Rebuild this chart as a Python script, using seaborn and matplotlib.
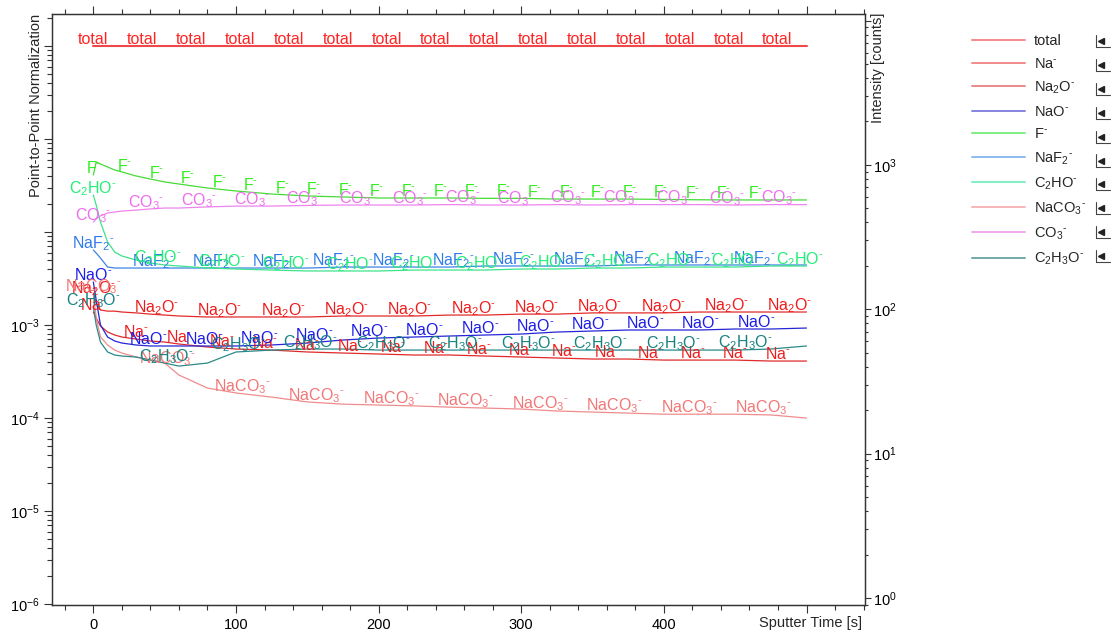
import numpy as np
import pandas as pd
import matplotlib
matplotlib.use("Agg")
import matplotlib.pyplot as plt
import seaborn as sns
from matplotlib.lines import Line2D
from matplotlib.ticker import MultipleLocator, LogLocator, FuncFormatter, NullFormatter

# ---------------- data ----------------
time_s = [0, 2, 5, 10, 15, 20, 30, 40, 50, 60, 80, 100, 125, 150, 175, 200,
          225, 250, 275, 300, 325, 350, 375, 400, 425, 450, 475, 500]

total = [1.0, 1.0, 1.0, 1.0, 1.0, 1.0, 1.0, 1.0, 1.0, 1.0, 1.0, 1.0, 1.0, 1.0,
         1.0, 1.0, 1.0, 1.0, 1.0, 1.0, 1.0, 1.0, 1.0, 1.0, 1.0, 1.0, 1.0, 1.0]
na = [0.00138, 0.00119, 0.000976, 0.000841, 0.000781, 0.000743, 0.000707, 0.000673,
      0.000656, 0.000625, 0.000580, 0.000552, 0.000538, 0.000513, 0.000500, 0.000488,
      0.000476, 0.000476, 0.000464, 0.000453, 0.000442, 0.000431, 0.000431, 0.000420,
      0.000420, 0.000420, 0.000410, 0.000410]
na2o = [0.00210, 0.00172, 0.00145, 0.00141, 0.00141, 0.00138, 0.00135, 0.00131,
        0.00128, 0.00125, 0.00122, 0.00122, 0.00122, 0.00122, 0.00125, 0.00125,
        0.00125, 0.00128, 0.00128, 0.00131, 0.00131, 0.00135, 0.00135, 0.00135,
        0.00138, 0.00138, 0.00138, 0.00138]
nao = [0.00290, 0.00186, 0.00100, 0.000743, 0.000673, 0.000640, 0.000610, 0.000595,
       0.000595, 0.000595, 0.000595, 0.000595, 0.000610, 0.000640, 0.000690, 0.000725,
       0.000743, 0.000762, 0.000781, 0.000800, 0.000841, 0.000862, 0.000884, 0.000884,
       0.000884, 0.000906, 0.000906, 0.000928]
f_ion = [0.0410, 0.0566, 0.0538, 0.0500, 0.0464, 0.0442, 0.0400, 0.0371, 0.0345,
         0.0328, 0.0297, 0.0276, 0.0256, 0.0244, 0.0238, 0.0232, 0.0232, 0.0232,
         0.0230, 0.0230, 0.0226, 0.0226, 0.0226, 0.0224, 0.0222, 0.0221, 0.0221, 0.0221]
naf2 = [0.00640, 0.00594, 0.00525, 0.00420, 0.00410, 0.00410, 0.00410, 0.00410,
        0.00410, 0.00410, 0.00410, 0.00410, 0.00410, 0.00410, 0.00420, 0.00420,
        0.00420, 0.00420, 0.00431, 0.00431, 0.00431, 0.00431, 0.00442, 0.00442,
        0.00442, 0.00442, 0.00442, 0.00442]
c2ho = [0.0250, 0.0195, 0.0128, 0.00781, 0.00609, 0.00552, 0.00500, 0.00464,
        0.00442, 0.00431, 0.00410, 0.00400, 0.00390, 0.00381, 0.00381, 0.00381,
        0.00390, 0.00390, 0.00390, 0.00400, 0.00400, 0.00410, 0.00410, 0.00420,
        0.00420, 0.00420, 0.00431, 0.00431]
naco3 = [0.00221, 0.00119, 0.000743, 0.000610, 0.000538, 0.000500, 0.000453, 0.000420,
         0.000390, 0.000290, 0.000210, 0.000186, 0.000168, 0.000149, 0.000141, 0.000138,
         0.000135, 0.000131, 0.000128, 0.000125, 0.000119, 0.000116, 0.000113, 0.000110,
         0.000110, 0.000110, 0.000108, 0.000100]
co3 = [0.0128, 0.0138, 0.0149, 0.0160, 0.0164, 0.0168, 0.0172, 0.0177, 0.0181,
       0.0181, 0.0186, 0.0190, 0.0190, 0.0193, 0.0195, 0.0195, 0.0195, 0.0197,
       0.0195, 0.0195, 0.0197, 0.0195, 0.0197, 0.0197, 0.0197, 0.0195, 0.0197, 0.0197]
c2h3o = [0.00156, 0.00100, 0.000656, 0.000513, 0.000476, 0.000464, 0.000453, 0.000420,
         0.000390, 0.000362, 0.000390, 0.000513, 0.000538, 0.000552, 0.000552, 0.000538,
         0.000538, 0.000538, 0.000538, 0.000538, 0.000538, 0.000538, 0.000538, 0.000538,
         0.000538, 0.000538, 0.000552, 0.000595]

ion_names = ["total", "Na-", "Na2O-", "NaO-", "F-", "NaF2-", "C2HO-", "NaCO3-", "CO3-", "C2H3O-"]
HY = "\u2010"
ion_labels = ["total", r"Na$^{%s}$" % HY, r"Na$_2$O$^{%s}$" % HY, r"NaO$^{%s}$" % HY,
              r"F$^{%s}$" % HY, r"NaF$_2$$^{%s}$" % HY, r"C$_2$HO$^{%s}$" % HY,
              r"NaCO$_3$$^{%s}$" % HY, r"CO$_3$$^{%s}$" % HY, r"C$_2$H$_3$O$^{%s}$" % HY]
ion_values = [total, na, na2o, nao, f_ion, naf2, c2ho, naco3, co3, c2h3o]

# ---------------- styles ----------------
line_colors = {"total": "#f04848", "Na-": "#e02a2a", "Na2O-": "#e32b2b", "NaO-": "#2626d6",
               "F-": "#45dc36", "NaF2-": "#3f84e6", "C2HO-": "#3de48a", "NaCO3-": "#f08c8c",
               "CO3-": "#ee84ee", "C2H3O-": "#2a8a8a"}
text_colors = {"total": "#ff2424", "Na-": "#ee1e1e", "Na2O-": "#ee1c1c", "NaO-": "#1c1ce8",
               "F-": "#33ee22", "NaF2-": "#2f7be8", "C2HO-": "#22ee77", "NaCO3-": "#f27676",
               "CO3-": "#ee6cee", "C2H3O-": "#168282"}
legend_colors = {"total": "#f48a8a", "Na-": "#f08a8a", "Na2O-": "#ee8888", "NaO-": "#8484e0",
                 "F-": "#80ee80", "NaF2-": "#8cbcf0", "C2HO-": "#80f0c0", "NaCO3-": "#f6b8b8",
                 "CO3-": "#f0a8f0", "C2H3O-": "#70aaaa"}
line_widths = {"total": 1.5}
label_step = {"total": 34.25, "Na-": 30.0, "Na2O-": 44.4, "NaO-": 38.7, "F-": 22.1,
              "NaF2-": 42.1, "C2HO-": 45.0, "NaCO3-": 52.2, "CO3-": 37.0, "C2H3O-": 50.8}
label_count = {"total": 15, "Na-": 17, "Na2O-": 12, "NaO-": 13, "F-": 22,
               "NaF2-": 12, "C2HO-": 12, "NaCO3-": 10, "CO3-": 14, "C2H3O-": 10}

sns.set_style("ticks")
plt.rcParams["font.family"] = ["Liberation Sans", "DejaVu Sans"]
plt.rcParams["mathtext.default"] = "regular"

fig = plt.figure(figsize=(11.13, 6.34), dpi=100)
ax = fig.add_axes([0.0467, 0.0457, 0.7305, 0.9323])

frames = []
for name, vals in zip(ion_names, ion_values):
    frames.append(pd.DataFrame({"time": time_s, "value": vals, "ion": name}))
df = pd.concat(frames, ignore_index=True)

for name in ion_names:
    sub = df[df["ion"] == name]
    sns.lineplot(data=sub, x="time", y="value", ax=ax, color=line_colors[name],
                 lw=line_widths.get(name, 0.9), estimator=None, sort=False, legend=False)

ax.set_yscale("log")
ax.set_xlim(-29, 541)
ax.set_ylim(10 ** -6.01, 10 ** 0.344)

# repeated in-line labels
for name, lab, vals in zip(ion_names, ion_labels, ion_values):
    logv = np.log10(np.array(vals))
    for k in range(label_count[name]):
        t = k * label_step[name]
        yv = 10 ** np.interp(t, time_s, logv)
        ax.annotate(lab, xy=(t, yv), xytext=(0, 1.5), textcoords="offset points",
                    ha="center", va="baseline", fontsize=11.5,
                    color=text_colors[name], zorder=5)

# axes styling
for sp in ax.spines.values():
    sp.set_color("#333333")
    sp.set_linewidth(0.9)
ax.set_xlabel("")
ax.set_ylabel("")
ax.xaxis.set_major_locator(MultipleLocator(100))
ax.xaxis.set_minor_locator(MultipleLocator(20))
ax.xaxis.set_major_formatter(FuncFormatter(lambda v, p: "" if (v >= 500 or v < 0) else f"{int(round(v))}"))
ax.yaxis.set_major_locator(LogLocator(base=10, numticks=20))
ax.yaxis.set_minor_locator(LogLocator(base=10, subs=np.arange(2, 10), numticks=20))
ax.yaxis.set_minor_formatter(NullFormatter())
ax.yaxis.set_major_formatter(FuncFormatter(
    lambda v, p: (r"$\mathdefault{10^{%d}}$" % int(round(np.log10(v)))) if v <= 1.01e-3 else ""))
ax.tick_params(which="both", direction="out", top=True, right=False, colors="#333333",
               labelcolor="black", labelsize=10.5, width=0.8)
ax.tick_params(which="major", length=5.5)
ax.tick_params(which="minor", length=3.5)
ax.tick_params(axis="x", which="major", pad=3.5)
ax.tick_params(axis="y", which="major", pad=3.5)

ax2 = ax.twinx()
ax2.set_yscale("log")
ax2.set_ylim(10 ** -0.0485, 10 ** 4.046)
ax2.yaxis.set_major_locator(LogLocator(base=10, numticks=20))
ax2.yaxis.set_minor_locator(LogLocator(base=10, subs=np.arange(2, 10), numticks=20))
ax2.yaxis.set_minor_formatter(NullFormatter())
ax2.yaxis.set_major_formatter(FuncFormatter(
    lambda v, p: (r"$\mathdefault{10^{%d}}$" % int(round(np.log10(v)))) if v <= 1001 else ""))
ax2.tick_params(which="both", direction="out", colors="#333333", labelcolor="black",
                labelsize=10.5, width=0.8)
ax2.tick_params(which="major", length=4.5, pad=1.5)
ax2.tick_params(which="minor", length=2.5)
for sp in ax2.spines.values():
    sp.set_color("#333333")
    sp.set_linewidth(0.9)

fig.text(36 / 1113, 0.978, "Point-to-Point Normalization", rotation=90, ha="center",
         va="top", fontsize=10.5)
fig.text(878 / 1113, 0.980, "Intensity [counts]", rotation=90, ha="center",
         va="top", fontsize=10.5)
fig.text(862 / 1113, 1 - 623 / 634, "Sputter Time [s]", ha="right", va="center",
         fontsize=10.5)

# legend
handles = [Line2D([0], [0], color=legend_colors[n], lw=1.4) for n in ion_names]
fig.legend(handles, ion_labels, loc="upper left", bbox_to_anchor=(972 / 1113, 1 - 34 / 634),
           frameon=False, fontsize=10.5, handlelength=3.6, handletextpad=0.65,
           labelspacing=0.6, borderpad=0, borderaxespad=0)

for i in range(len(ion_names)):
    yc = (634 - (41 + i * 23.9)) / 634
    x0 = 1096 / 1113
    fig.add_artist(Line2D([x0, x0], [yc - 6 / 634, yc + 6 / 634], color="#444444", lw=0.8,
                          transform=fig.transFigure))
    fig.add_artist(Line2D([x0, 1110 / 1113], [yc - 6 / 634, yc - 6 / 634], color="#444444",
                          lw=0.8, transform=fig.transFigure))
    fig.add_artist(Line2D([1101 / 1113], [yc], marker="<", markersize=4.5, color="#222222",
                          lw=0, transform=fig.transFigure))

fig.savefig("out.png", dpi=100)
